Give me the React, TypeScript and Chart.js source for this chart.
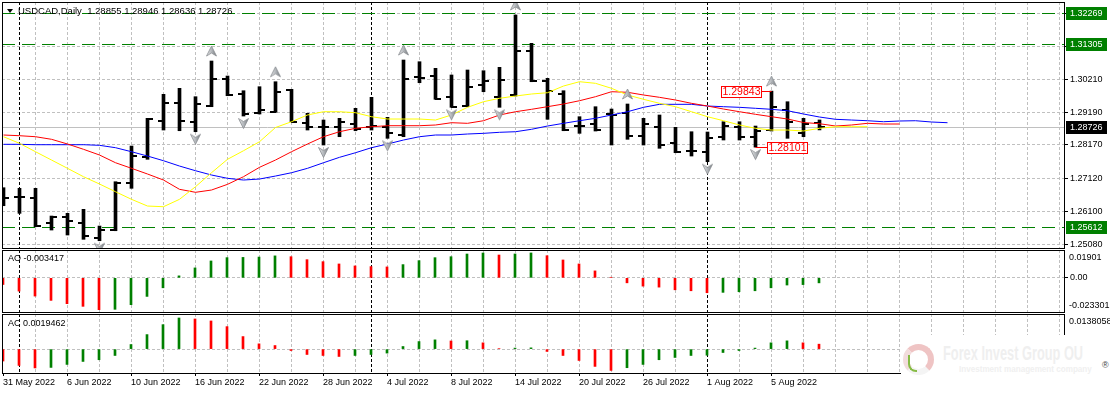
import React, { useEffect, useRef } from 'react';
import { Chart, registerables } from 'chart.js';

Chart.register(...registerables);

// ---------------- data ----------------
const dates = [
  '31 May 2022', '1 Jun 2022', '2 Jun 2022', '3 Jun 2022', '6 Jun 2022', '7 Jun 2022', '8 Jun 2022', '9 Jun 2022',
  '10 Jun 2022', '13 Jun 2022', '14 Jun 2022', '15 Jun 2022', '16 Jun 2022', '17 Jun 2022', '20 Jun 2022', '21 Jun 2022',
  '22 Jun 2022', '23 Jun 2022', '24 Jun 2022', '27 Jun 2022', '28 Jun 2022', '29 Jun 2022', '30 Jun 2022', '1 Jul 2022',
  '4 Jul 2022', '5 Jul 2022', '6 Jul 2022', '7 Jul 2022', '8 Jul 2022', '11 Jul 2022', '12 Jul 2022', '13 Jul 2022',
  '14 Jul 2022', '15 Jul 2022', '18 Jul 2022', '19 Jul 2022', '20 Jul 2022', '21 Jul 2022', '22 Jul 2022', '25 Jul 2022',
  '26 Jul 2022', '27 Jul 2022', '28 Jul 2022', '29 Jul 2022', '1 Aug 2022', '2 Aug 2022', '3 Aug 2022', '4 Aug 2022',
  '5 Aug 2022', '8 Aug 2022', '9 Aug 2022', '10 Aug 2022',
];

const opens = [
  1.26549, 1.2654, 1.26509, 1.25731, 1.25937, 1.25731, 1.25265, 1.25523, 1.26994, 1.27803,
  1.28922, 1.29463, 1.28891, 1.29379, 1.3021, 1.29753, 1.29171, 1.29202, 1.29877, 1.2886,
  1.28717, 1.28717, 1.2882, 1.28736, 1.28717, 1.28478, 1.30272, 1.30312, 1.2965, 1.29379,
  1.30033, 1.2965, 1.29722, 1.31099, 1.30166, 1.29753, 1.28757, 1.2881, 1.29121, 1.29171,
  1.28446, 1.28717, 1.28219, 1.27989, 1.27958, 1.28406, 1.28736, 1.28406, 1.28633, 1.29255,
  1.28549, 1.28855,
];
const highs = [
  1.26839, 1.2682, 1.2682, 1.25958, 1.26042, 1.26167, 1.25647, 1.27025, 1.28135, 1.28997,
  1.29743, 1.2993, 1.29669, 1.30779, 1.30312, 1.29855, 1.2998, 1.30135, 1.29899, 1.29152,
  1.28944, 1.28997, 1.29308, 1.2965, 1.29028, 1.3081, 1.30757, 1.30552, 1.30344, 1.30499,
  1.30477, 1.30583, 1.3221, 1.31329, 1.30241, 1.29855, 1.29047, 1.29358, 1.29286, 1.29442,
  1.28997, 1.291, 1.28717, 1.2858, 1.28571, 1.28891, 1.28891, 1.28757, 1.29843, 1.29513,
  1.28997, 1.28946,
];
const lows = [
  1.26279, 1.26042, 1.25626, 1.25523, 1.25368, 1.25234, 1.2519, 1.25501, 1.2682, 1.27722,
  1.28633, 1.28611, 1.2858, 1.29358, 1.297, 1.29068, 1.29131, 1.29184, 1.28891, 1.28633,
  1.28167, 1.28425, 1.28611, 1.28633, 1.28375, 1.28425, 1.30104, 1.29588, 1.29339, 1.29358,
  1.29824, 1.29339, 1.2969, 1.30135, 1.28966, 1.28611, 1.2853, 1.28602, 1.28167, 1.28344,
  1.28167, 1.28064, 1.27927, 1.27824, 1.27647, 1.28322, 1.28322, 1.28101, 1.28602, 1.28375,
  1.28425, 1.28636,
];
const closes = [
  1.26534, 1.26549, 1.25647, 1.25937, 1.25812, 1.25336, 1.25523, 1.26994, 1.27824, 1.28966,
  1.29482, 1.28922, 1.29442, 1.30228, 1.29722, 1.29131, 1.29255, 1.29824, 1.28891, 1.28717,
  1.28725, 1.28891, 1.28655, 1.28757, 1.28549, 1.30228, 1.30265, 1.29606, 1.29358, 1.29961,
  1.30166, 1.30188, 1.31099, 1.30166, 1.29855, 1.28633, 1.2875, 1.28633, 1.291, 1.28456,
  1.2882, 1.28167, 1.27958, 1.27985, 1.28375, 1.28757, 1.28406, 1.28611, 1.29339, 1.28891,
  1.2882, 1.28726,
];

// Alligator lines (they run past the last bar)
const jaw = [
  1.28188, 1.28188, 1.28176, 1.28176, 1.28176, 1.28176, 1.28157, 1.28083, 1.27958, 1.27824,
  1.27678, 1.27513, 1.27367, 1.27234, 1.27131, 1.27078, 1.27109, 1.27202, 1.27305, 1.27442,
  1.27616, 1.27784, 1.27927, 1.28083, 1.28198, 1.28322, 1.28425, 1.28478, 1.28478, 1.28509,
  1.2853, 1.28562, 1.2858, 1.28655, 1.28757, 1.28841, 1.28922, 1.28997, 1.291, 1.29202,
  1.29339, 1.29432, 1.29432, 1.29432, 1.29379, 1.29358, 1.29339, 1.29308, 1.29277, 1.29233,
  1.29131, 1.29037, 1.28966, 1.28944, 1.28922, 1.28891, 1.28913, 1.28922, 1.28882, 1.2886,
];
const teeth = [
  1.28478, 1.28456, 1.28425, 1.28344, 1.28198, 1.28033, 1.27856, 1.27616, 1.27442, 1.27265,
  1.27078, 1.26789, 1.26696, 1.26767, 1.26944, 1.27181, 1.27473, 1.277, 1.27958, 1.28198,
  1.28425, 1.2858, 1.28686, 1.28736, 1.28767, 1.28767, 1.28767, 1.28789, 1.2886, 1.28841,
  1.28922, 1.291, 1.29202, 1.29277, 1.29358, 1.29442, 1.29544, 1.29669, 1.29824, 1.29806,
  1.29722, 1.2965, 1.29566, 1.29463, 1.29379, 1.29286, 1.29202, 1.29121, 1.29047, 1.28975,
  1.28866, 1.28829, 1.28757, 1.28789, 1.28841, 1.2882, 1.2882,
];
const lips = [
  1.28425, 1.28219, 1.27958, 1.277, 1.27442, 1.27181, 1.26954, 1.26714, 1.26478, 1.26269,
  1.26248, 1.26478, 1.2687, 1.27305, 1.27722, 1.27989, 1.28269, 1.28711, 1.28891, 1.291,
  1.29202, 1.29202, 1.29171, 1.29047, 1.28975, 1.28975, 1.28975, 1.28944, 1.291, 1.29339,
  1.29513, 1.29619, 1.2969, 1.29753, 1.29793, 1.30001, 1.30135, 1.30085, 1.2993, 1.29722,
  1.29588, 1.29463, 1.29358, 1.29202, 1.29047, 1.28922, 1.28789, 1.28686, 1.28633, 1.28633,
  1.28602, 1.28686, 1.28736, 1.28736, 1.28736,
];

const fractalUp = [13, 17, 25, 32, 39, 48];
const fractalDown = [6, 12, 15, 20, 24, 28, 31, 44, 47];

const aoValues = [
  -0.00454, -0.00904, -0.01243, -0.01537, -0.01763, -0.01944, -0.0217, -0.02147, -0.01831, -0.01266,
  -0.00678, 0.00136, 0.00678, 0.01153, 0.0138, 0.01395, 0.0142, 0.015, 0.01444, 0.01241,
  0.01105, 0.00949, 0.00814, 0.00768, 0.00746, 0.00904, 0.01175, 0.01378, 0.01444, 0.01627,
  0.01695, 0.01559, 0.0163, 0.017, 0.01512, 0.0122, 0.00949, 0.00475, 0.0004, -0.00339,
  -0.00565, -0.00633, -0.00814, -0.00881, -0.01017, -0.0099, -0.00949, -0.00881, -0.00678, -0.0049,
  -0.0046, -0.003417,
];
const acValues = [
  -0.00469, -0.00641, -0.0074, -0.0072, -0.00602, -0.00485, -0.00418, -0.0025, 0.0018, 0.00571,
  0.00962, 0.01224, 0.01185, 0.01107, 0.00884, 0.00493, 0.00207, 0.00141, -0.00055, -0.00211,
  -0.0025, -0.00289, -0.0025, -0.00211, -0.00156, 0.00102, 0.00297, 0.00364, 0.0032, 0.0033,
  0.00247, 0.0002, 0.0004, 0.0005, -0.00091, -0.0025, -0.00446, -0.0068, -0.00837, -0.00731,
  -0.00602, -0.00418, -0.00328, -0.0025, -0.0024, -0.00133, -0.00055, 0.0004, 0.00247, 0.00325,
  0.00247, 0.0019462,
];

const priceTicks = [1.2508, 1.261, 1.2712, 1.2817, 1.2919, 1.3021, 1.3124, 1.3227];
const priceTickLabels = ['1.25080', '1.26100', '1.27120', '1.28170', '1.29190', '1.30210', '', ''];
const levelLines = [1.32269, 1.31305, 1.25612];
const lastPrice = 1.28726;
const highMark = { bar: 48, value: 1.29843 };
const lowMark = { bar: 47, value: 1.28101 };
const titleText = 'USDCAD,Daily  1.28855 1.28946 1.28636 1.28726';
const aoRange = { min: -0.023301, max: 0.01901 };
const acRange = { min: -0.00939, max: 0.0138058 };
const aoLabel = 'AO -0.003417';
const acLabel = 'AC 0.0019462';

// ---------------- layout / style ----------------
const W = 1110;
const H = 394;
const AXIS_W = 46;
const PLOT_LEFT = 2;
const MAIN_TOP = 2;
const MAIN_BOTTOM = 248;
const AO_TOP = 250;
const AO_BOTTOM = 312;
const AC_TOP = 314;
const AC_BOTTOM = 373;
const FONT = '"Liberation Sans", Arial, Helvetica, sans-serif';
const GRID = '#C0C0C0';
const GREEN = '#008000';
const RED = '#FF0000';
const X_RANGE_MAIN = { min: -0.09375, max: 66.28125 };
const X_RANGE_SUB = { min: -0.0625, max: 66.3125 };

const monthStarts = dates
  .map((d, i) => (i > 0 && d.split(' ')[1] !== dates[i - 1].split(' ')[1] ? i : -1))
  .filter((i) => i >= 0);
const gridTicks: number[] = [];
for (let v = 0; v <= 66; v += 2) gridTicks.push(v);
const isLabeled = (v: number) => v % 4 === 0 && v < dates.length;

function makeCanvas(w: number, h: number) {
  const c = document.createElement('canvas');
  c.width = w;
  c.height = h;
  return c;
}

function makeArrow(up: boolean) {
  const c = makeCanvas(11, 32);
  const g = c.getContext('2d') as CanvasRenderingContext2D;
  const top = up ? 1 : 18.5;
  g.beginPath();
  if (up) {
    g.moveTo(5.5, top);
    g.lineTo(10.5, top + 10);
    g.lineTo(5.5, top + 7);
    g.lineTo(0.5, top + 10);
  } else {
    g.moveTo(5.5, top + 10);
    g.lineTo(10.5, top);
    g.lineTo(5.5, top + 3);
    g.lineTo(0.5, top);
  }
  g.closePath();
  const grad = g.createLinearGradient(0, 0, 11, 0);
  grad.addColorStop(0, '#EEEEEE');
  grad.addColorStop(0.5, '#B4B8BC');
  grad.addColorStop(1, '#6E7378');
  g.fillStyle = grad;
  g.fill();
  g.strokeStyle = '#8A8E92';
  g.lineWidth = 0.8;
  g.stroke();
  return c;
}

function makeTick(left: boolean) {
  const c = makeCanvas(13, 2);
  const g = c.getContext('2d') as CanvasRenderingContext2D;
  g.fillStyle = '#000';
  g.fillRect(left ? 1 : 6, 0, 6, 2);
  return c;
}

function drawFrame(chart: any) {
  const { ctx, chartArea: a } = chart;
  ctx.save();
  ctx.setLineDash([]);
  ctx.strokeStyle = '#000';
  ctx.lineWidth = 1;
  ctx.strokeRect(Math.floor(a.left) + 0.5, Math.floor(a.top) + 0.5, Math.round(a.right - a.left), Math.round(a.bottom - a.top));
  ctx.restore();
}

function drawMonthSeps(chart: any) {
  const { ctx, chartArea: a, scales } = chart;
  const x = scales.x;
  ctx.save();
  ctx.beginPath();
  ctx.rect(a.left, a.top, a.right - a.left, a.bottom - a.top);
  ctx.clip();
  ctx.strokeStyle = '#000';
  ctx.lineWidth = 1;
  ctx.setLineDash([3, 2]);
  monthStarts.forEach((i) => {
    const px = Math.floor(x.getPixelForValue(i)) + 0.5;
    ctx.beginPath();
    ctx.moveTo(px, a.top);
    ctx.lineTo(px, a.bottom);
    ctx.stroke();
  });
  ctx.restore();
}

function drawMark(ctx: CanvasRenderingContext2D, px: number, py: number, text: string, side: 'left' | 'right') {
  const bw = 41;
  const bh = 11;
  const yy = Math.round(py);
  const left = side === 'left' ? Math.round(px) - 10 - bw : Math.round(px) + 11;
  ctx.save();
  ctx.setLineDash([]);
  ctx.strokeStyle = RED;
  ctx.lineWidth = 1;
  ctx.beginPath();
  if (side === 'left') {
    ctx.moveTo(left + bw, yy + 0.5);
    ctx.lineTo(px, yy + 0.5);
  } else {
    ctx.moveTo(px, yy + 0.5);
    ctx.lineTo(left, yy + 0.5);
  }
  ctx.stroke();
  ctx.fillStyle = '#fff';
  ctx.fillRect(left, yy - 5, bw, bh);
  ctx.strokeRect(left + 0.5, yy - 5 + 0.5, bw - 1, bh);
  ctx.fillStyle = RED;
  ctx.font = `10.5px ${FONT}`;
  ctx.textAlign = 'center';
  ctx.textBaseline = 'middle';
  ctx.fillText(text, left + bw / 2, yy + 1);
  ctx.restore();
}

function drawAxisBox(ctx: CanvasRenderingContext2D, py: number, text: string, bg: string) {
  const yy = Math.round(py);
  ctx.save();
  ctx.fillStyle = bg;
  ctx.fillRect(1066, yy - 6, 41, 13);
  ctx.fillStyle = '#fff';
  ctx.font = `9px ${FONT}`;
  ctx.textAlign = 'left';
  ctx.textBaseline = 'middle';
  ctx.fillText(text, 1070, yy + 0.5);
  ctx.restore();
}

function xScaleOptions(range: { min: number; max: number }, withLabels: boolean) {
  return {
    type: 'linear',
    min: range.min,
    max: range.max,
    bounds: 'data',
    offset: false,
    display: true,
    afterBuildTicks: (s: any) => {
      s.ticks = gridTicks.map((v) => ({ value: v }));
    },
    afterFit: (s: any) => {
      s.height = withLabels ? H - AC_BOTTOM : 0;
      s.paddingLeft = 0;
      s.paddingRight = 0;
      s.paddingTop = 0;
      s.paddingBottom = 0;
    },
    grid: {
      offset: false,
      lineWidth: 1,
      color: (c: any) => (c.tick && c.tick.value === 0 ? 'rgba(0,0,0,0)' : GRID),
      drawTicks: withLabels,
      tickLength: 3,
      tickColor: (c: any) => (c.tick && isLabeled(c.tick.value) ? '#000' : 'rgba(0,0,0,0)'),
    },
    border: { display: false, dash: [3, 2] },
    ticks: withLabels
      ? {
          display: true,
          autoSkip: false,
          maxRotation: 0,
          minRotation: 0,
          align: 'start',
          padding: 1,
          color: '#000',
          font: { family: FONT, size: 9 },
          callback: (v: number) => (isLabeled(v) ? dates[v] : ''),
        }
      : { display: false },
  };
}

function yScaleOptions(min: number, max: number, ticks: number[], labels: string[]) {
  return {
    type: 'linear',
    position: 'right',
    min,
    max,
    bounds: 'data',
    afterBuildTicks: (s: any) => {
      s.ticks = ticks.map((v) => ({ value: v }));
    },
    afterFit: (s: any) => {
      s.width = AXIS_W;
      s.paddingTop = 0;
      s.paddingBottom = 0;
      s.paddingLeft = 0;
      s.paddingRight = 0;
    },
    grid: { color: GRID, lineWidth: 1, drawTicks: true, tickLength: 4, tickColor: '#000' },
    border: { display: false, dash: [3, 2] },
    ticks: {
      autoSkip: false,
      padding: 2,
      color: '#000',
      font: { family: FONT, size: 9 },
      callback: (_v: number, i: number) => labels[i],
    },
  };
}

const baseOptions = (padding: any) => ({
  responsive: false,
  animation: false,
  devicePixelRatio: 1,
  events: [],
  layout: { autoPadding: false, padding },
  plugins: { legend: { display: false }, tooltip: { enabled: false } },
});

function subPlugin(id: string, label: string, labelDy: number, topLabel: string, bottomLabel: string) {
  return {
    id,
    beforeDatasetsDraw(chart: any) {
      drawMonthSeps(chart);
    },
    afterDraw(chart: any) {
      const { ctx, chartArea: a } = chart;
      drawFrame(chart);
      ctx.save();
      ctx.fillStyle = '#000';
      ctx.font = `9px ${FONT}`;
      ctx.textAlign = 'left';
      ctx.textBaseline = 'middle';
      ctx.fillText(label, 8, a.top + labelDy);
      ctx.fillText(topLabel, 1069, a.top + 7.5);
      if (bottomLabel) ctx.fillText(bottomLabel, 1069, a.bottom - 6.5);
      ctx.restore();
    },
  };
}

function histColors(values: number[]) {
  return values.map((v, i) => (i > 0 && v > values[i - 1] ? GREEN : RED));
}

function Watermark() {
  return (
    <div style={{ position: 'absolute', left: 901, top: 335, width: 209, height: 59, background: '#fff' }}>
      <div
        style={{
          position: 'absolute',
          left: 2,
          top: 9,
          width: 31,
          height: 31,
          borderRadius: '50%',
          border: '6px solid #efc4c4',
          borderBottomColor: '#f4f4f4',
          borderLeftColor: '#f2dcdc',
          boxSizing: 'border-box',
        }}
      />
      <div
        style={{
          position: 'absolute',
          left: 7,
          top: 20,
          width: 7,
          height: 15,
          borderLeft: '2px solid #86bb45',
          borderBottom: '2px solid #86bb45',
          borderRadius: '0 0 0 8px',
        }}
      />
      <div
        style={{
          position: 'absolute',
          left: 42,
          top: 8,
          fontFamily: FONT,
          fontWeight: 700,
          fontSize: 20,
          lineHeight: '20px',
          color: '#efefef',
          whiteSpace: 'nowrap',
          transform: 'scaleX(0.64)',
          transformOrigin: 'left top',
        }}
      >
        Forex Invest Group OU
      </div>
      <div
        style={{
          position: 'absolute',
          left: 58,
          top: 29,
          fontFamily: FONT,
          fontWeight: 700,
          fontSize: 9,
          lineHeight: '10px',
          color: '#f0f0f0',
          whiteSpace: 'nowrap',
          transform: 'scaleX(0.9)',
          transformOrigin: 'left top',
        }}
      >
        Investment management company
      </div>
      <div style={{ position: 'absolute', left: 201, top: 25, fontFamily: FONT, fontSize: 9, lineHeight: '10px', color: '#444' }}>
        ®
      </div>
    </div>
  );
}

export default function App() {
  const mainRef = useRef<HTMLCanvasElement>(null);
  const aoRef = useRef<HTMLCanvasElement>(null);
  const acRef = useRef<HTMLCanvasElement>(null);

  useEffect(() => {
    const charts: Chart[] = [];
    const upArrow = makeArrow(true);
    const downArrow = makeArrow(false);
    const openTick = makeTick(true);
    const closeTick = makeTick(false);

    const mainPlugin = {
      id: 'mainDecor',
      beforeDatasetsDraw(chart: any) {
        const { ctx, chartArea: a, scales } = chart;
        const y = scales.y;
        drawMonthSeps(chart);
        ctx.save();
        ctx.beginPath();
        ctx.rect(a.left, a.top, a.right - a.left, a.bottom - a.top);
        ctx.clip();
        ctx.lineWidth = 1;
        ctx.setLineDash([]);
        ctx.strokeStyle = '#C0C0C0';
        const lp = Math.round(y.getPixelForValue(lastPrice)) + 0.5;
        ctx.beginPath();
        ctx.moveTo(a.left, lp);
        ctx.lineTo(a.right, lp);
        ctx.stroke();
        ctx.setLineDash([13, 7]);
        ctx.strokeStyle = GREEN;
        levelLines.forEach((v) => {
          const py = Math.round(y.getPixelForValue(v)) + 0.5;
          ctx.beginPath();
          ctx.moveTo(a.left, py);
          ctx.lineTo(a.right, py);
          ctx.stroke();
        });
        ctx.restore();
      },
      afterDatasetsDraw(chart: any) {
        const { ctx, scales } = chart;
        drawMark(ctx, scales.x.getPixelForValue(highMark.bar), scales.y.getPixelForValue(highMark.value), highMark.value.toFixed(5), 'left');
        drawMark(ctx, scales.x.getPixelForValue(lowMark.bar), scales.y.getPixelForValue(lowMark.value), lowMark.value.toFixed(5), 'right');
      },
      afterDraw(chart: any) {
        const { ctx, scales } = chart;
        const y = scales.y;
        drawFrame(chart);
        levelLines.forEach((v) => drawAxisBox(ctx, y.getPixelForValue(v), v.toFixed(5), GREEN));
        drawAxisBox(ctx, y.getPixelForValue(lastPrice), lastPrice.toFixed(5), '#000');
        ctx.save();
        ctx.fillStyle = '#000';
        ctx.beginPath();
        ctx.moveTo(7, 9);
        ctx.lineTo(13, 9);
        ctx.lineTo(10, 13);
        ctx.closePath();
        ctx.fill();
        ctx.font = `9.5px ${FONT}`;
        ctx.textAlign = 'left';
        ctx.textBaseline = 'middle';
        ctx.fillText(titleText, 18, 11);
        ctx.restore();
      },
    };

    const mainChart = new Chart(mainRef.current as HTMLCanvasElement, {
      type: 'scatter',
      data: {
        datasets: [
          {
            type: 'scatter',
            data: fractalUp.map((i) => ({ x: i, y: highs[i] })),
            pointStyle: upArrow,
            pointRadius: 4,
            order: 0,
          },
          {
            type: 'scatter',
            data: fractalDown.map((i) => ({ x: i, y: lows[i] })),
            pointStyle: downArrow,
            pointRadius: 4,
            order: 0,
          },
          {
            type: 'line',
            data: lips.map((v, i) => ({ x: i, y: v })),
            borderColor: '#FFFF00',
            borderWidth: 1,
            pointRadius: 0,
            tension: 0,
            fill: false,
            order: 1,
          },
          {
            type: 'line',
            data: teeth.map((v, i) => ({ x: i, y: v })),
            borderColor: '#FF0000',
            borderWidth: 1,
            pointRadius: 0,
            tension: 0,
            fill: false,
            order: 2,
          },
          {
            type: 'line',
            data: jaw.map((v, i) => ({ x: i, y: v })),
            borderColor: '#0000FF',
            borderWidth: 1,
            pointRadius: 0,
            tension: 0,
            fill: false,
            order: 3,
          },
          {
            type: 'scatter',
            data: opens.map((v, i) => ({ x: i, y: v })),
            pointStyle: openTick,
            pointRadius: 2,
            order: 4,
          },
          {
            type: 'scatter',
            data: closes.map((v, i) => ({ x: i, y: v })),
            pointStyle: closeTick,
            pointRadius: 2,
            order: 4,
          },
          {
            type: 'bar',
            data: highs.map((h, i) => ({ x: i, y: [lows[i], h] })),
            backgroundColor: '#000',
            borderWidth: 0,
            barThickness: 3,
            grouped: false,
            order: 5,
          },
        ],
      } as any,
      options: {
        ...baseOptions({ left: PLOT_LEFT, top: MAIN_TOP, right: 0, bottom: H - MAIN_BOTTOM }),
        scales: {
          x: xScaleOptions(X_RANGE_MAIN, false),
          y: yScaleOptions(1.24964, 1.32614, priceTicks, priceTickLabels),
        },
      } as any,
      plugins: [mainPlugin],
    });
    charts.push(mainChart);

    const aoChart = new Chart(aoRef.current as HTMLCanvasElement, {
      type: 'bar',
      data: {
        datasets: [
          {
            data: aoValues.map((v, i) => ({ x: i, y: v })),
            backgroundColor: histColors(aoValues),
            borderWidth: 0,
            barThickness: 2,
            grouped: false,
          },
        ],
      } as any,
      options: {
        ...baseOptions({ left: PLOT_LEFT, top: AO_TOP, right: 0, bottom: H - AO_BOTTOM }),
        scales: {
          x: xScaleOptions(X_RANGE_SUB, false),
          y: yScaleOptions(aoRange.min, aoRange.max, [0], ['0.00']),
        },
      } as any,
      plugins: [subPlugin('aoDecor', aoLabel, 9, aoRange.max.toString(), aoRange.min.toString())],
    });
    charts.push(aoChart);

    const acChart = new Chart(acRef.current as HTMLCanvasElement, {
      type: 'bar',
      data: {
        datasets: [
          {
            data: acValues.map((v, i) => ({ x: i, y: v })),
            backgroundColor: histColors(acValues),
            borderWidth: 0,
            barThickness: 2,
            grouped: false,
          },
        ],
      } as any,
      options: {
        ...baseOptions({ left: PLOT_LEFT, top: AC_TOP, right: 0, bottom: 0 }),
        scales: {
          x: xScaleOptions(X_RANGE_SUB, true),
          y: yScaleOptions(acRange.min, acRange.max, [0], ['']),
        },
      } as any,
      plugins: [subPlugin('acDecor', acLabel, 10, acRange.max.toString(), '')],
    });
    charts.push(acChart);

    return () => {
      charts.forEach((c) => c.destroy());
    };
  }, []);

  const canvasStyle: React.CSSProperties = { position: 'absolute', left: 0, top: 0, width: W, height: H };
  return (
    <div style={{ position: 'fixed', left: 0, top: 0, width: W, height: H, background: '#fff', overflow: 'hidden' }}>
      <canvas ref={mainRef} width={W} height={H} style={canvasStyle} />
      <canvas ref={aoRef} width={W} height={H} style={canvasStyle} />
      <canvas ref={acRef} width={W} height={H} style={canvasStyle} />
      <Watermark />
    </div>
  );
}
